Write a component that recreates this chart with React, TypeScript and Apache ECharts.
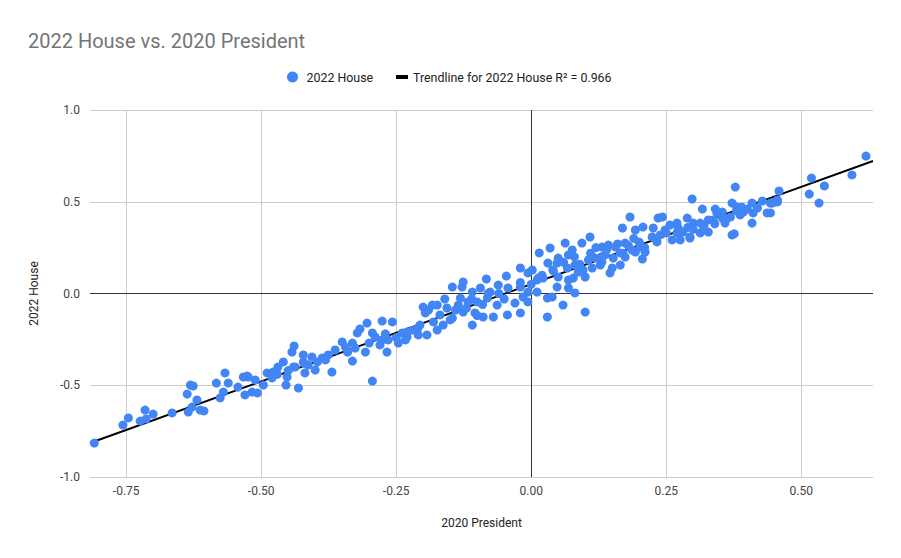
import React, { useEffect, useRef } from "react";
import * as echarts from "echarts";

const TITLE = "2022 House vs. 2020 President";
const X_NAME = "2020 President";
const Y_NAME = "2022 House";
const SERIES_NAME = "2022 House";
const TREND_NAME = "Trendline for 2022 House R² = 0.966";
const X_TICKS = [-0.75, -0.5, -0.25, 0, 0.25, 0.5];
const X_MIN = -0.817;
const X_MAX = 0.633;
const Y_MIN = -1;
const Y_MAX = 1;
const Y_INTERVAL = 0.5;
const TREND_SLOPE = 1.06;
const TREND_INTERCEPT = 0.051;

// [2020 President margin, 2022 House margin]
const groupA: [number, number][] = [
  [-0.809, -0.815], [-0.756, -0.717], [-0.746, -0.678], [-0.724, -0.695], [-0.713, -0.684],
  [-0.715, -0.635], [-0.7, -0.657], [-0.665, -0.651], [-0.635, -0.646], [-0.628, -0.619],
  [-0.619, -0.58], [-0.613, -0.635], [-0.606, -0.64], [-0.637, -0.548], [-0.631, -0.499],
  [-0.626, -0.504], [-0.583, -0.488], [-0.567, -0.433], [-0.561, -0.488], [-0.576, -0.569],
  [-0.57, -0.537], [-0.543, -0.51], [-0.533, -0.455], [-0.524, -0.455], [-0.53, -0.553],
  [-0.517, -0.537], [-0.507, -0.542], [-0.526, -0.45], [-0.511, -0.471],
];
const groupB: [number, number][] = [
  [-0.439, -0.286], [-0.443, -0.319], [-0.431, -0.515], [-0.454, -0.499], [-0.452, -0.455],
  [-0.496, -0.499], [-0.419, -0.433], [-0.4, -0.417], [-0.369, -0.428], [-0.331, -0.368],
  [-0.307, -0.319], [-0.317, -0.193], [-0.322, -0.215], [-0.35, -0.264], [-0.344, -0.292],
  [-0.363, -0.308], [-0.376, -0.335], [-0.387, -0.351], [-0.406, -0.346], [-0.422, -0.335],
  [-0.422, -0.373], [-0.413, -0.39], [-0.437, -0.401], [-0.459, -0.373], [-0.469, -0.401],
  [-0.478, -0.428], [-0.489, -0.433], [-0.331, -0.27], [-0.326, -0.297], [-0.396, -0.373],
  [-0.381, -0.362], [-0.48, -0.46], [-0.47, -0.44], [-0.45, -0.42], [-0.44, -0.4],
  [-0.42, -0.38], [-0.34, -0.32],
];
const groupC: [number, number][] = [
  [-0.294, -0.477], [-0.267, -0.319], [-0.276, -0.15], [-0.257, -0.155], [-0.304, -0.161],
  [-0.294, -0.215], [-0.289, -0.237], [-0.239, -0.215], [-0.23, -0.237], [-0.246, -0.27],
  [-0.265, -0.253], [-0.276, -0.253], [-0.3, -0.27], [-0.28, -0.28], [-0.27, -0.22],
  [-0.25, -0.24], [-0.22, -0.2], [-0.21, -0.19], [-0.146, 0.035], [-0.128, 0.035],
  [-0.126, 0.063], [-0.109, 0.008], [-0.131, -0.025], [-0.135, -0.063], [-0.117, -0.046],
  [-0.1, -0.046], [-0.109, -0.172], [-0.104, -0.106], [-0.156, -0.079], [-0.146, -0.134],
  [-0.169, -0.117], [-0.183, -0.063], [-0.2, -0.074], [-0.196, -0.106], [-0.181, -0.155],
  [-0.174, -0.199], [-0.193, -0.226], [-0.209, -0.226], [-0.23, -0.21], [-0.233, -0.253],
  [-0.206, -0.172], [-0.163, -0.172], [-0.15, -0.144], [-0.126, -0.101], [-0.174, -0.063],
  [-0.19, -0.09], [-0.16, -0.03], [-0.14, -0.09], [-0.12, -0.08], [-0.11, -0.03],
];
const groupD: [number, number][] = [
  [-0.083, 0.079], [-0.046, 0.095], [-0.02, 0.139], [-0.094, 0.03], [-0.076, 0.008],
  [-0.061, 0.046], [-0.043, 0.03], [-0.02, 0.035], [-0.006, 0.008], [-0.081, -0.025],
  [-0.063, -0.063], [-0.044, -0.117], [-0.02, -0.106], [-0.03, -0.052], [-0.015, -0.019],
  [-0.07, -0.128], [-0.089, -0.128], [-0.1, -0.12], [-0.09, -0.06], [-0.08, 0.0],
  [-0.06, 0.0], [-0.05, -0.03], [0.063, 0.275], [0.035, 0.248], [0.015, 0.221],
  [0.076, 0.237], [0.069, 0.21], [0.05, 0.193], [0.031, 0.166], [0.048, 0.166],
  [0.002, 0.128], [-0.006, 0.112], [0.041, 0.123], [0.022, 0.084], [0.011, 0.074],
  [0.067, 0.139], [0.081, 0.155], [0.096, 0.128], [0.078, 0.084], [0.069, 0.074],
  [0.048, 0.035], [0.069, 0.03], [0.081, 0.003], [0.039, -0.019], [0.03, -0.025],
  [-0.006, -0.046], [0.011, 0.008], [0.059, -0.063], [0.1, -0.101], [0.03, -0.128],
  [0.013, 0.084], [0.087, 0.117], [0.1, 0.09], [0.094, 0.275], [0.02, 0.1],
  [0.04, 0.13], [0.05, 0.09], [0.06, 0.17], [0.08, 0.2], [0.09, 0.16],
  [-0.02, 0.06], [0.0, 0.05],
];
const groupE: [number, number][] = [
  [0.183, 0.417], [0.169, 0.357], [0.193, 0.346], [0.207, 0.362], [0.226, 0.357],
  [0.224, 0.308], [0.235, 0.411], [0.109, 0.308], [0.106, 0.183], [0.119, 0.193],
  [0.137, 0.21], [0.131, 0.253], [0.156, 0.253], [0.143, 0.264], [0.165, 0.221],
  [0.174, 0.275], [0.187, 0.237], [0.202, 0.253], [0.211, 0.226], [0.206, 0.188],
  [0.165, 0.155], [0.146, 0.112], [0.128, 0.155], [0.113, 0.139], [0.131, 0.172],
  [0.152, 0.193], [0.174, 0.199], [0.193, 0.226], [0.15, 0.139], [0.11, 0.22],
  [0.12, 0.25], [0.13, 0.2], [0.14, 0.24], [0.16, 0.27], [0.17, 0.22],
  [0.18, 0.26], [0.19, 0.3], [0.2, 0.28], [0.21, 0.25], [0.243, 0.417],
  [0.233, 0.281], [0.239, 0.319], [0.248, 0.346],
];
const groupF: [number, number][] = [
  [0.378, 0.58], [0.298, 0.515], [0.317, 0.46], [0.341, 0.46], [0.354, 0.444],
  [0.372, 0.493], [0.381, 0.471], [0.393, 0.444], [0.409, 0.493], [0.428, 0.504],
  [0.437, 0.439], [0.419, 0.466], [0.411, 0.439], [0.409, 0.384], [0.387, 0.428],
  [0.369, 0.417], [0.359, 0.384], [0.372, 0.319], [0.289, 0.411], [0.3, 0.384],
  [0.313, 0.384], [0.328, 0.401], [0.337, 0.401], [0.319, 0.346], [0.328, 0.335],
  [0.313, 0.33], [0.294, 0.308], [0.281, 0.335], [0.272, 0.357], [0.27, 0.384],
  [0.257, 0.373], [0.261, 0.292], [0.276, 0.292], [0.294, 0.302], [0.354, 0.411],
  [0.344, 0.439], [0.25, 0.33], [0.27, 0.33], [0.29, 0.36], [0.3, 0.35],
  [0.32, 0.37], [0.34, 0.38], [0.36, 0.4], [0.38, 0.45], [0.39, 0.47],
  [0.4, 0.46], [0.376, 0.325],
];
const groupG: [number, number][] = [
  [0.62, 0.749], [0.594, 0.646], [0.519, 0.629], [0.543, 0.586], [0.515, 0.542],
  [0.533, 0.493], [0.459, 0.559], [0.452, 0.499], [0.443, 0.493], [0.443, 0.439],
  [0.446, 0.493], [0.456, 0.499], [0.456, 0.51],
];

const FONT = "Roboto, Arial, sans-serif";

export default function App() {
  const ref = useRef<HTMLDivElement>(null);
  useEffect(() => {
    document.body.style.margin = "0";
    if (!ref.current) return;
    const chart = echarts.init(ref.current, undefined, { renderer: "svg" });
    const points = [...groupA, ...groupB, ...groupC, ...groupD, ...groupE, ...groupF, ...groupG];
    const trend = [
      [X_MIN, TREND_INTERCEPT + TREND_SLOPE * X_MIN],
      [X_MAX, TREND_INTERCEPT + TREND_SLOPE * X_MAX],
    ];
    const gridLines = X_TICKS.filter((v) => v !== 0).map((v) => ({
      xAxis: v,
      lineStyle: { color: "#cccccc", width: 1, type: "solid" },
    }));
    chart.setOption({
      animation: false,
      backgroundColor: "#ffffff",
      textStyle: { fontFamily: FONT },
      title: {
        text: TITLE,
        left: 23,
        top: 26,
        textStyle: { fontFamily: FONT, fontSize: 20, fontWeight: "normal", color: "#757575" },
      },
      legend: [
        {
          data: [{ name: SERIES_NAME, icon: "circle" }],
          left: 287,
          top: 71,
          itemWidth: 18,
          itemHeight: 11,
          padding: 0,
          textStyle: { fontFamily: FONT, fontSize: 12.4, color: "#222222" },
        },
        {
          data: [{ name: TREND_NAME, icon: "rect" }],
          left: 396,
          top: 71,
          itemWidth: 12,
          itemHeight: 4,
          padding: 0,
          textStyle: { fontFamily: FONT, fontSize: 12.4, color: "#222222" },
        },
      ],
      grid: { left: 90, right: 28, top: 110, bottom: 81, containLabel: false },
      xAxis: {
        type: "value",
        min: X_MIN,
        max: X_MAX,
        name: X_NAME,
        nameLocation: "middle",
        nameGap: 40,
        nameTextStyle: { fontFamily: FONT, fontSize: 12, color: "#222222" },
        axisLine: { show: false },
        axisTick: { show: false },
        splitLine: { show: false },
        axisLabel: {
          customValues: X_TICKS,
          formatter: (v: number) => v.toFixed(2),
          margin: 8,
          fontFamily: FONT,
          fontSize: 12,
          color: "#444444",
        },
      },
      yAxis: {
        type: "value",
        min: Y_MIN,
        max: Y_MAX,
        interval: Y_INTERVAL,
        name: Y_NAME,
        nameLocation: "middle",
        nameGap: 50,
        nameTextStyle: { fontFamily: FONT, fontSize: 12, color: "#222222" },
        axisLine: { show: false },
        axisTick: { show: false },
        splitLine: { show: true, lineStyle: { color: "#cccccc", width: 1 } },
        axisLabel: {
          formatter: (v: number) => v.toFixed(1),
          margin: 10,
          fontFamily: FONT,
          fontSize: 12,
          color: "#444444",
        },
      },
      series: [
        {
          name: TREND_NAME,
          type: "line",
          data: trend,
          symbol: "none",
          showSymbol: false,
          color: "#000000",
          lineStyle: { color: "#000000", width: 2 },
          z: 2,
          silent: true,
          markLine: {
            silent: true,
            symbol: ["none", "none"],
            label: { show: false },
            z: 1,
            data: [
              ...gridLines,
              { xAxis: 0, lineStyle: { color: "#333333", width: 1, type: "solid" } },
              { yAxis: 0, lineStyle: { color: "#333333", width: 1, type: "solid" } },
            ],
          },
        },
        {
          name: SERIES_NAME,
          type: "scatter",
          data: points,
          symbol: "circle",
          symbolSize: 9,
          itemStyle: { color: "#4285F4", opacity: 1 },
          z: 3,
        },
      ],
    });
    return () => chart.dispose();
  }, []);
  return <div ref={ref} style={{ width: 901, height: 558 }} />;
}
